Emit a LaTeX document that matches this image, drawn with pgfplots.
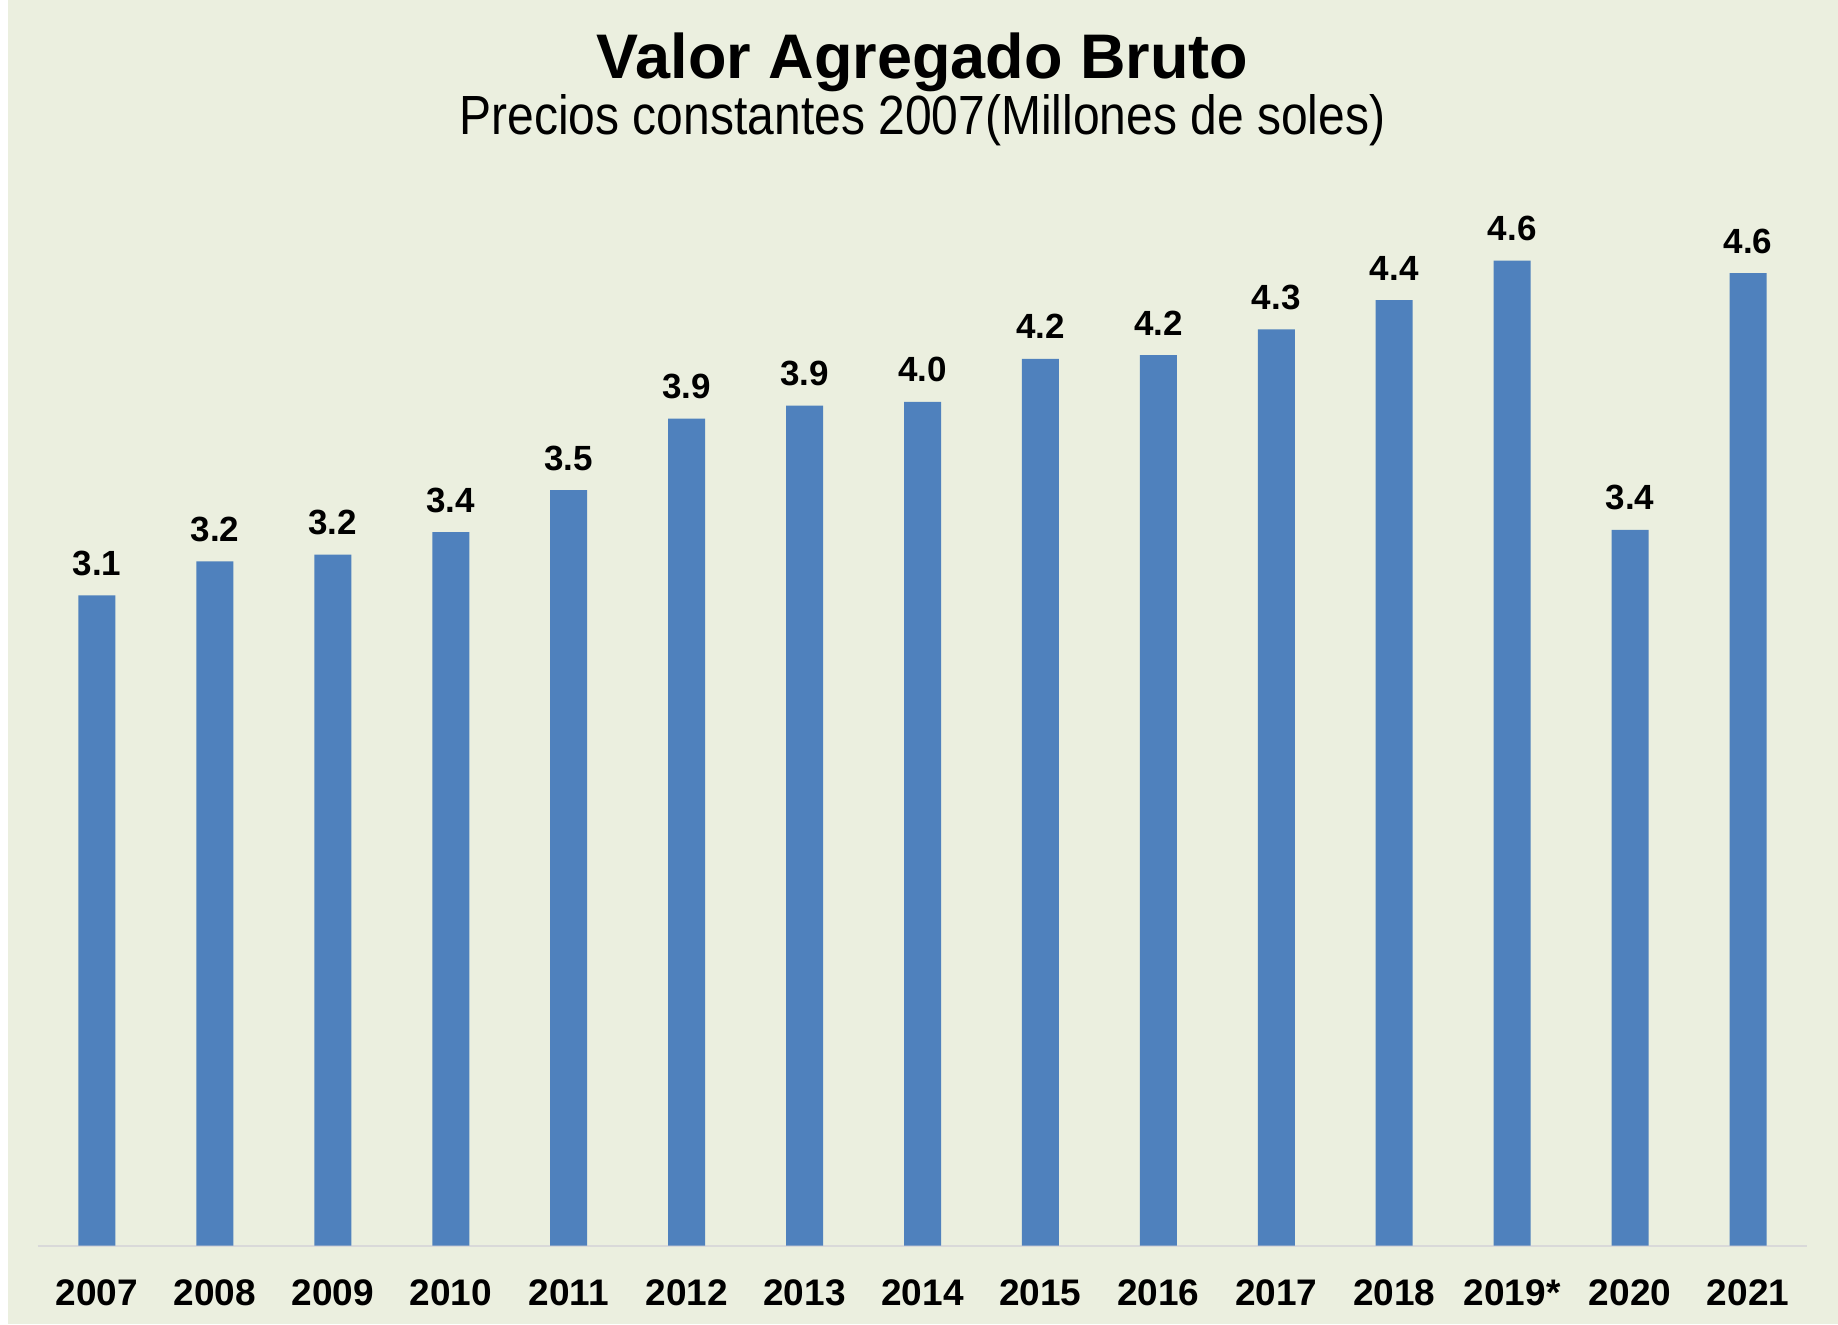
\documentclass[border=0pt]{standalone}
\usepackage{pgfplots}
\usepackage{pgfplotstable}
\pgfplotsset{compat=1.18}
\usepackage{fontspec}
\setmainfont{Liberation Sans}
\definecolor{bgc}{HTML}{EBEFDF}
\definecolor{barc}{HTML}{4F81BD}
\definecolor{linec}{HTML}{D9D9D9}

\pgfplotstableread{
x y lab
0 3.055 3.1
1 3.215 3.2
2 3.247 3.2
3 3.352 3.4
4 3.550 3.5
5 3.886 3.9
6 3.947 3.9
7 3.964 4.0
8 4.167 4.2
9 4.184 4.2
10 4.305 4.3
11 4.443 4.4
12 4.628 4.6
13 3.363 3.4
14 4.569 4.6
}\datatable

\begin{document}
\begin{tikzpicture}
\fill[white] (-19pt,-39.15pt) rectangle (900pt,622.85pt);
\fill[bgc] (-15pt,-39.15pt) rectangle (900pt,622.85pt);
\begin{axis}[
  at={(0,0)}, anchor=south west,
  scale only axis,
  width=884.5pt, height=553.41pt,
  xmin=-0.5, xmax=14.5,
  ymin=0, ymax=5.2,
  axis x line*=bottom,
  axis y line=none,
  x axis line style={draw=linec, line width=1pt, -},
  xtick={0,...,14},
  xticklabels={2007,2008,2009,2010,2011,2012,2013,2014,2015,2016,2017,2018,2019*,2020,2021},
  xtick style={draw=none},
  ytick=\empty,
  xticklabel style={anchor=base, yshift=-25.75pt, font=\fontsize{18.5}{20}\selectfont\bfseries},
  clip=false,
  ybar, bar width=18.5pt,
  nodes near coords,
  point meta=explicit symbolic,
  every node near coord/.append style={anchor=base, yshift=10pt, font=\fontsize{17.5}{19}\selectfont\bfseries, text=black},
]
\addplot[fill=barc, draw=none] table[x=x, y=y, meta=lab] {\datatable};
\end{axis}
\node[anchor=base, font=\fontsize{31.5}{34}\selectfont\bfseries] at (442.25pt,583.7pt) {Valor Agregado Bruto};
\node[anchor=base, font=\fontsize{24}{26}\selectfont] at (442.25pt,555.35pt) {\scalebox{1}[1.15]{Precios constantes 2007(Millones de soles)}};
\pgfresetboundingbox
\path[use as bounding box] (-19pt,-39.15pt) rectangle (900pt,622.85pt);
\end{tikzpicture}
\end{document}
